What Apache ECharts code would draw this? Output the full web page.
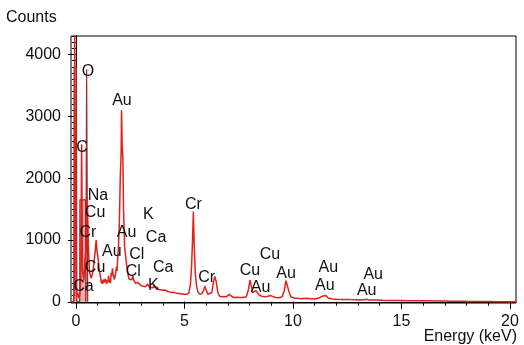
<!DOCTYPE html>
<html>
<head>
<meta charset="utf-8">
<script src="https://cdn.jsdelivr.net/npm/echarts@6.0.0/dist/echarts.min.js"></script>
<style>
html, body { margin: 0; padding: 0; background: #fff; }
#chart { width: 524px; height: 345px; }
</style>
</head>
<body>
<div id="chart"></div>
<script>
// EDS spectrum (keV, counts)
const energy = [
	-0.23, -0.12, -0.08, -0.06, -0.03, 0.0, 0.03, 0.08, 0.12, 0.18,
	0.22, 0.26, 0.3, 0.36, 0.42, 0.47, 0.52, 0.57, 0.62, 0.7,
	0.76, 0.82, 0.88, 0.93, 0.97, 1.02, 1.08, 1.14, 1.17, 1.2,
	1.23, 1.26, 1.29, 1.32, 1.35, 1.38, 1.41, 1.44, 1.47, 1.5,
	1.53, 1.56, 1.59, 1.62, 1.65, 1.68, 1.71, 1.74, 1.77, 1.8,
	1.83, 1.86, 1.89, 1.92, 1.96, 2.0, 2.04, 2.08, 2.1, 2.13,
	2.16, 2.19, 2.24, 2.3, 2.36, 2.42, 2.46, 2.5, 2.54, 2.58,
	2.62, 2.66, 2.7, 2.74, 2.78, 2.82, 2.86, 2.9, 2.95, 3.0,
	3.05, 3.1, 3.15, 3.2, 3.25, 3.3, 3.35, 3.4, 3.45, 3.5,
	3.55, 3.6, 3.65, 3.7, 3.75, 3.8, 3.85, 3.9, 3.95, 4.0,
	4.1, 4.2, 4.3, 4.4, 4.5, 4.6, 4.7, 4.8, 4.9, 5.0,
	5.1, 5.2, 5.28, 5.33, 5.37, 5.41, 5.45, 5.5, 5.56, 5.62,
	5.7, 5.8, 5.88, 5.94, 6.0, 6.08, 6.16, 6.26, 6.34, 6.4,
	6.46, 6.54, 6.62, 6.72, 6.82, 6.92, 7.0, 7.06, 7.12, 7.25,
	7.4, 7.55, 7.7, 7.85, 7.95, 8.02, 8.08, 8.14, 8.2, 8.3,
	8.36, 8.44, 8.55, 8.7, 8.82, 8.9, 8.96, 9.05, 9.2, 9.35,
	9.5, 9.6, 9.68, 9.74, 9.82, 9.9, 10.05, 10.2, 10.4, 10.6,
	10.8, 11.0, 11.2, 11.35, 11.44, 11.52, 11.62, 11.8, 12.0, 12.3,
	12.6, 12.9, 13.2, 13.38, 13.5, 13.8, 14.1, 14.4, 14.7, 15.0,
	15.4, 15.8, 16.2, 16.6, 17.0, 17.4, 17.8, 18.2, 18.6, 19.0,
	19.4, 20.28
];
const counts = [
	0, 0, 120, 4400, 4400, 300, 90, 150, 60, 120,
	400, 2550, 500, 350, 700, 900, 1700, 900, 500, 380,
	450, 600, 800, 1000, 820, 700, 500, 380, 300, 340,
	290, 360, 310, 300, 370, 330, 290, 350, 310, 420,
	340, 350, 300, 470, 420, 540, 450, 420, 360, 380,
	460, 560, 500, 700, 900, 1300, 2000, 2400, 3100, 2500,
	2350, 1500, 900, 700, 520, 400, 360, 390, 330, 360,
	420, 350, 380, 300, 330, 280, 310, 290, 300, 260,
	280, 255, 270, 240, 265, 290, 250, 260, 230, 245,
	225, 270, 230, 215, 235, 200, 210, 195, 205, 185,
	190, 170, 160, 150, 155, 140, 135, 130, 125, 120,
	120, 140, 300, 600, 980, 1460, 900, 450, 250, 160,
	120, 130, 180, 250, 190, 120, 110, 150, 330, 410,
	330, 150, 90, 80, 85, 80, 100, 120, 90, 70,
	75, 70, 68, 80, 200, 350, 260, 150, 120, 180,
	170, 110, 90, 80, 85, 110, 100, 70, 70, 65,
	80, 180, 340, 320, 160, 80, 60, 55, 50, 55,
	50, 45, 60, 90, 115, 100, 60, 45, 40, 38,
	35, 34, 30, 40, 28, 30, 25, 22, 20, 22,
	18, 16, 15, 14, 12, 10, 8, 6, 4, 3,
	0, 0
];

// dark overlay peaks at low energy
const overlayEnergy = [-0.1, -0.08, 0.02, 0.04, 0.17, 0.18, 0.44, 0.45, 0.48, 0.49, 0.53, 0.54];
const overlayCounts = [0, 3800, 3800, 0, 0, 1650, 1650, 0, 0, 3760, 3760, 0];

// element labels
const labelNames = ['O', 'Au', 'C', 'Na', 'Cu', 'Cr', 'Au', 'Au', 'Cu', 'Ca', 'K', 'Ca', 'Cl', 'Ca', 'Cl', 'K',
	'Cr', 'Cr', 'Cu', 'Cu', 'Au', 'Au', 'Au', 'Au', 'Au', 'Au'];
const labelEnergy = [0.55, 2.12, 0.28, 1.01, 0.88, 0.55, 1.65, 2.33, 0.88, 0.34, 3.33, 3.69, 2.8, 4.02, 2.64, 3.56,
	5.41, 6.02, 8.94, 8.02, 8.51, 9.68, 11.63, 11.47, 13.7, 13.4];
const labelCounts = [3725, 3255, 2494, 1717, 1441, 1117, 815, 1117, 550, 248, 1409, 1031, 761, 546, 491, 259,
	1571, 384, 761, 507, 222, 449, 546, 259, 437, 178];

const xLabels = [0, 5, 10, 15, 20];
const yLabels = [0, 1000, 2000, 3000, 4000];

const xMinor = [];
for (let v = 0; v <= 20; v++) xMinor.push(v);
const yMinor = [];
for (let v = 0; v <= 4300; v += 100) yMinor.push(v);

const font = 'Liberation Sans, Arial, sans-serif';
const ink = '#111';

const chart = echarts.init(document.getElementById('chart'), null, { renderer: 'canvas' });

chart.setOption({
	animation: false,
	title: [
		{ text: 'Counts', left: 1, top: 5, textStyle: { fontSize: 16, fontWeight: 'normal', color: ink, fontFamily: font } },
		{ text: 'Energy (keV)', right: 2, top: 324, textStyle: { fontSize: 16, fontWeight: 'normal', color: ink, fontFamily: font } }
	],
	grid: {
		left: 71, right: 8, top: 36, bottom: 42,
		show: true, borderColor: '#000', borderWidth: 1, backgroundColor: 'transparent'
	},
	xAxis: [
		{
			type: 'value', min: -0.23, max: 20.28, position: 'bottom',
			axisLine: { show: true, lineStyle: { color: '#000', width: 1 } },
			axisTick: { show: true, customValues: xLabels, length: 7, lineStyle: { color: '#000' } },
			axisLabel: { customValues: xLabels, fontSize: 16, color: ink, fontFamily: font, margin: 11 },
			splitLine: { show: false }
		},
		{
			type: 'value', min: -0.23, max: 20.28, position: 'bottom',
			axisLine: { show: false },
			axisTick: { show: true, customValues: xMinor, length: 4, lineStyle: { color: '#000' } },
			axisLabel: { show: false },
			splitLine: { show: false }
		}
	],
	yAxis: [
		{
			type: 'value', min: -20, max: 4300, position: 'left',
			axisLine: { show: true, lineStyle: { color: '#000', width: 1 } },
			axisTick: { show: true, customValues: yLabels, length: 8, lineStyle: { color: '#000' } },
			axisLabel: { customValues: yLabels, formatter: (v) => String(v), fontSize: 16, color: ink, fontFamily: font, margin: 10 },
			splitLine: { show: false }
		},
		{
			type: 'value', min: -20, max: 4300, position: 'left',
			axisLine: { show: false },
			axisTick: { show: true, customValues: yMinor, length: 4, lineStyle: { color: '#000' } },
			axisLabel: { show: false },
			splitLine: { show: false }
		}
	],
	series: [
		{
			type: 'line',
			symbol: 'none',
			xAxisIndex: 1,
			yAxisIndex: 1,
			data: overlayEnergy.map((e, i) => [e, overlayCounts[i]]),
			lineStyle: { color: '#9e2a2b', width: 1.2 },
			areaStyle: { color: '#e7a4a4', opacity: 0.9 },
			z: 2
		},
		{
			type: 'line',
			symbol: 'none',
			data: energy.map((e, i) => [e, counts[i]]),
			lineStyle: { color: '#e3201b', width: 1.5 },
			z: 3
		},
		{
			type: 'scatter',
			symbolSize: 0,
			clip: false,
			itemStyle: { opacity: 1 },
			data: labelEnergy.map((e, i) => ({ value: [e, labelCounts[i]], name: labelNames[i] })),
			label: {
				show: true,
				position: 'inside',
				formatter: (p) => p.name,
				fontSize: 16,
				color: '#111',
				textBorderWidth: 0,
				fontFamily: font
			},
			z: 5
		}
	]
});
</script>
</body>
</html>
